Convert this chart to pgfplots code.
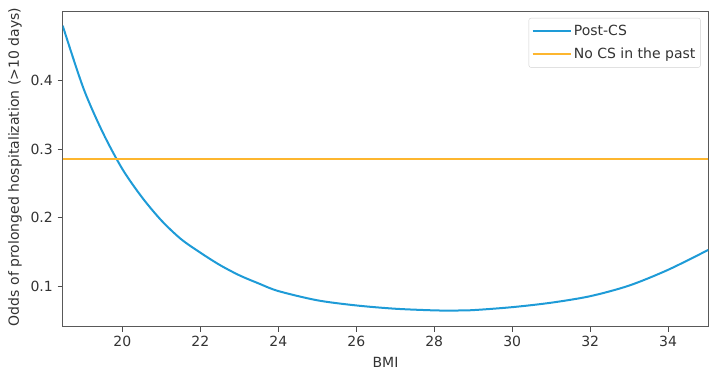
\documentclass[border=0pt]{standalone}
\usepackage{fontspec}
\setmainfont{DejaVu Sans}
\usepackage{pgfplots}
\pgfplotsset{compat=1.18}
\definecolor{cblue}{HTML}{1E9BD7}
\definecolor{corange}{HTML}{FDB62F}
\begin{document}
\fontsize{14bp}{16bp}\selectfont
\begin{tikzpicture}
\useasboundingbox (0,0) rectangle (717bp,374bp);
\begin{axis}[
  at={(62.7bp,47.3bp)}, anchor=south west,
  width=645.6bp, height=315bp, scale only axis,
  xmin=18.47, xmax=35.03, ymin=0.041, ymax=0.5004,
  xtick={20,22,24,26,28,30,32,34},
  ytick={0.1,0.2,0.3,0.4},
  yticklabels={0.1,0.2,0.3,0.4},
  tick pos=left, tick align=outside, major tick length=5bp,
  every tick/.style={black!70, line width=0.8bp},
  axis line style={black!65, line width=1bp},
  ticklabel style={font=\fontsize{14bp}{16bp}\selectfont, text=black!80},
  /pgf/number format/assume math mode=true,
  xlabel={BMI}, ylabel={Odds of prolonged hospitalization (>10 days)},
  label style={font=\fontsize{14bp}{16bp}\selectfont, text=black!80},
  xlabel style={at={(axis description cs:0.5,-0.112)}, anchor=center},
  ylabel style={at={(axis description cs:-0.0739,0.507)}, anchor=center},
  legend style={at={(rel axis cs:0.988,0.98)}, anchor=north east,
    draw=black!18, rounded corners=2bp, font=\fontsize{14bp}{16bp}\selectfont,
    text=black!80, inner xsep=3bp, inner ysep=5bp, row sep=6bp},
  legend cell align=left,
  legend image code/.code={\draw[#1] (0bp,0bp) -- (30bp,0bp); \path (0bp,0bp) -- (38bp,0bp);},
]
\addplot[cblue, line width=2bp, smooth] coordinates {
(18.47,0.480) (19.0,0.389) (19.5,0.324) (20.0,0.271) (20.5,0.230)
(21.0,0.196) (21.5,0.169) (22.0,0.149) (22.5,0.131) (23.0,0.116)
(23.5,0.104) (24.0,0.093)
(25.0,0.0795) (26.0,0.072) (27.0,0.0672) (28.0,0.0648) (28.5,0.0646)
(29.0,0.0652) (30.0,0.0695) (31.0,0.0760) (32.0,0.0855) (33.0,0.101)
(34.0,0.124) (35.03,0.153)
};
\addlegendentry{Post-CS}
\addplot[corange, line width=2bp] coordinates {(18.47,0.285) (35.03,0.285)};
\addlegendentry{No CS in the past}
\end{axis}
\end{tikzpicture}
\end{document}
